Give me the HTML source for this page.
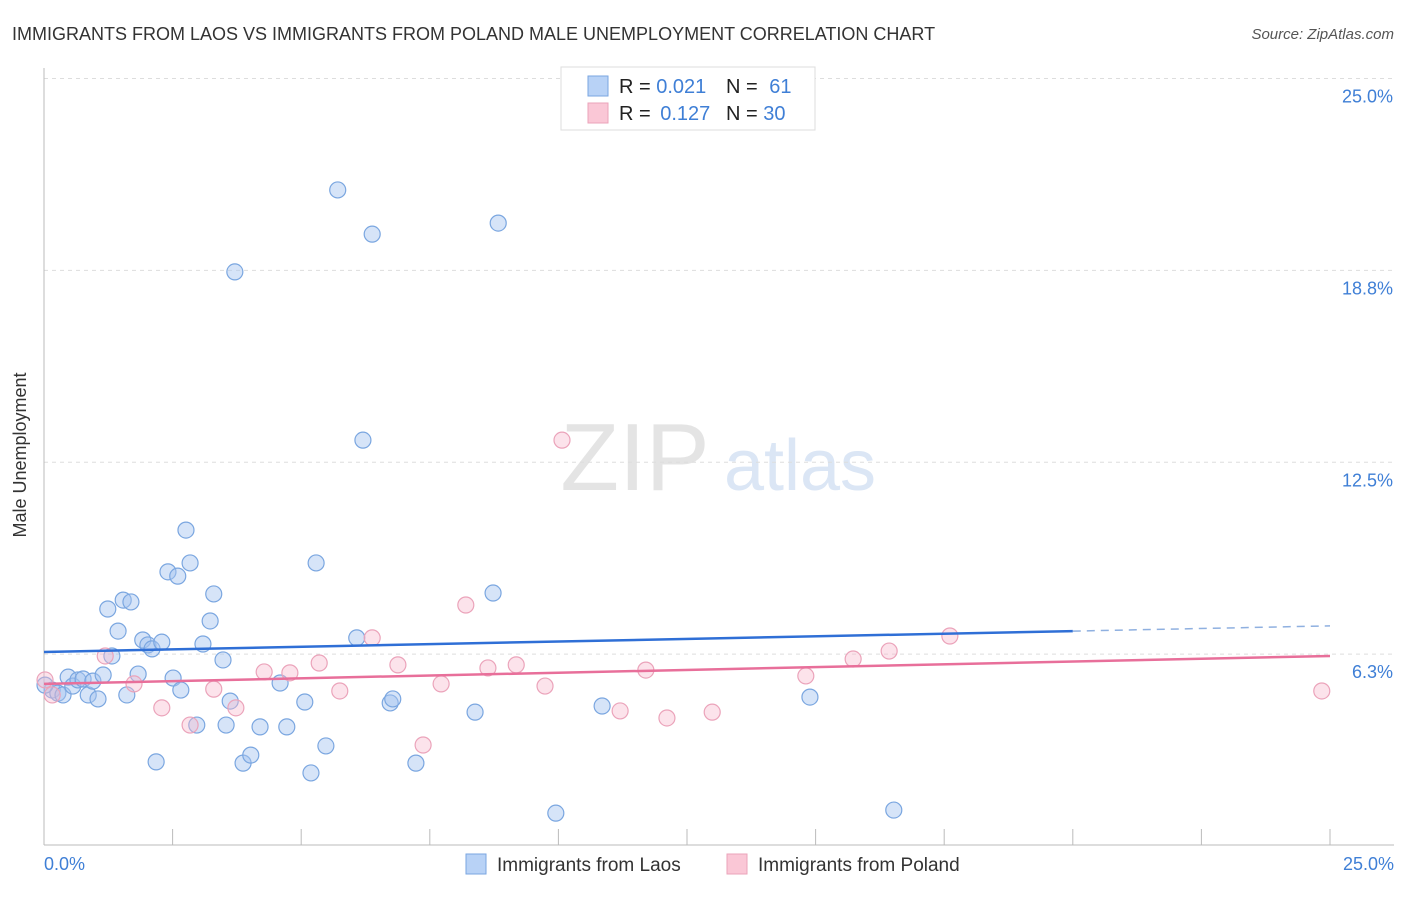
<!DOCTYPE html>
<html><head><meta charset="utf-8"><style>
body{margin:0;background:#fff;font-family:"Liberation Sans",sans-serif;}
svg text{font-family:"Liberation Sans",sans-serif;}
</style></head><body>
<svg id="c" width="1406" height="892">
<text x="12" y="40" font-size="18" fill="#333">IMMIGRANTS FROM LAOS VS IMMIGRANTS FROM POLAND MALE UNEMPLOYMENT CORRELATION CHART</text>
<text x="1394" y="39" font-size="15" fill="#555" font-style="italic" text-anchor="end">Source: ZipAtlas.com</text>
<text x="26" y="455" font-size="18" fill="#333" text-anchor="middle" transform="rotate(-90 26 455)">Male Unemployment</text>
<g><text x="635" y="490" font-size="96" fill="#e4e4e4" font-family="Liberation Serif" text-anchor="middle">ZIP</text><text x="800" y="490" font-size="72" fill="#dbe6f5" text-anchor="middle">atlas</text></g>
<g id="grid"></g><g id="pts"></g><g id="lines"></g>
<g>
<rect x="561" y="67" width="254" height="63" fill="#fff" stroke="#ddd"/>
<rect x="588" y="76" width="20" height="20" fill="#b8d2f6" stroke="#7aa6e0"/>
<rect x="588" y="103" width="20" height="20" fill="#fac7d6" stroke="#eba3ba"/>
<text x="619" y="93" font-size="20" fill="#222">R = <tspan fill="#3f7fd6">0.021</tspan></text>
<text x="726" y="93" font-size="20" fill="#222">N = <tspan fill="#3f7fd6" dx="6">61</tspan></text>
<text x="619" y="120" font-size="20" fill="#222">R = <tspan fill="#3f7fd6" dx="4">0.127</tspan></text>
<text x="726" y="120" font-size="20" fill="#222">N = <tspan fill="#3f7fd6">30</tspan></text>
</g>
<g>
<rect x="466" y="854" width="20" height="20" fill="#b8d2f6" stroke="#7aa6e0"/>
<text x="497" y="871" font-size="19" fill="#333">Immigrants from Laos</text>
<rect x="727" y="854" width="20" height="20" fill="#fac7d6" stroke="#eba3ba"/>
<text x="758" y="871" font-size="19" fill="#333">Immigrants from Poland</text>
</g>
</svg>
<script>
const laosX=[0.16,0.27,0.37,0.47,0.56,0.66,0.76,0.86,0.95,1.05,1.15,1.24,1.32,1.44,1.54,1.61,1.69,1.83,1.92,2.02,2.10,2.18,2.29,2.41,2.51,2.60,2.66,2.76,2.84,2.97,3.09,3.23,3.30,3.48,3.54,3.62,3.71,3.87,4.02,4.20,4.59,4.72,5.07,5.19,5.29,5.48,5.71,6.08,6.20,6.38,6.73,6.78,7.23,8.38,8.73,8.83,9.95,10.85,14.89,16.52,0.02];
const laosY=[5.08,4.98,4.92,5.50,5.21,5.41,5.44,4.92,5.37,4.79,5.57,7.72,6.19,7.00,8.01,4.92,7.95,5.60,6.71,6.55,6.42,2.74,6.64,8.93,5.47,8.79,5.08,10.29,9.22,3.94,6.58,7.33,8.21,6.06,3.94,4.72,18.70,2.70,2.96,3.88,5.31,3.88,4.69,2.38,9.22,3.26,21.37,6.78,13.22,19.93,4.66,4.79,2.70,4.36,8.24,20.29,1.07,4.56,4.85,1.17,5.24];
const polX=[0.02,0.16,1.19,1.75,2.29,2.84,3.30,3.73,4.28,4.78,5.35,5.75,6.38,6.88,7.37,7.72,8.20,8.63,9.18,9.74,10.07,11.20,11.70,12.11,12.99,14.81,15.73,16.43,17.61,24.84];
const polY=[5.41,4.92,6.19,5.28,4.50,3.94,5.11,4.50,5.67,5.64,5.96,5.05,6.78,5.90,3.29,5.28,7.85,5.80,5.90,5.21,13.22,4.40,5.73,4.17,4.36,5.54,6.09,6.35,6.84,5.05];
const yTicks=[6.25,12.5,18.75,25];
const yTickLabels=["6.3%","12.5%","18.8%","25.0%"];
const xTicks=[0,2.5,5,7.5,10,12.5,15,17.5,20,22.5,25];
const laosTrend=[6.32,7.00,7.17];
const polTrend=[5.28,6.19];
const NS='http://www.w3.org/2000/svg';
const sx=v=>44+v*51.44, sy=v=>846-v*30.7;
function mk(t,a,p){const e=document.createElementNS(NS,t);for(const k in a)e.setAttribute(k,a[k]);p.appendChild(e);return e;}
const svg=document.getElementById('c'),g=document.getElementById('grid'),P=document.getElementById('pts'),L=document.getElementById('lines');
yTicks.forEach((t,i)=>{
 const l=mk('line',{x1:44,x2:1394,y1:sy(t),y2:sy(t),stroke:'#ddd','stroke-dasharray':'4,4'},g);
 
 
 const tx=mk('text',{x:1393,y:sy(t)+24,'font-size':18,fill:'#3f7fd6','text-anchor':'end'},g);
 tx.textContent=yTickLabels[i];
 
 
});
const ax=mk('line',{x1:44,x2:1394,y1:845,y2:845,stroke:'#bbb'},g);


const ay=mk('line',{x1:44,x2:44,y1:68,y2:845,stroke:'#bbb'},g);


xTicks.forEach(t=>{const l=mk('line',{x1:sx(t),x2:sx(t),y1:829,y2:845,stroke:'#bbb'},g);
 
 });
const x0=mk('text',{x:44,y:870,'font-size':18,fill:'#3f7fd6'},g);x0.textContent='0.0%';


const x1=mk('text',{x:1394,y:870,'font-size':18,fill:'#3f7fd6','text-anchor':'end'},g);x1.textContent='25.0%';


laosX.forEach((x,i)=>{const c=mk('circle',{cx:sx(x),cy:sy(laosY[i]),r:8,fill:'rgba(164,196,240,0.45)',stroke:'#7aa6e0','stroke-width':1.2},P);
 
 });
polX.forEach((x,i)=>{const c=mk('circle',{cx:sx(x),cy:sy(polY[i]),r:8,fill:'rgba(247,185,204,0.4)',stroke:'#eba3ba','stroke-width':1.2},P);
 
 });
const bl=mk('line',{x1:sx(0),y1:sy(laosTrend[0]),x2:sx(20),y2:sy(laosTrend[1]),stroke:'#2f6fd6','stroke-width':2.5},L);


const bd=mk('line',{x1:sx(20),y1:sy(laosTrend[1]),x2:sx(25),y2:sy(laosTrend[2]),stroke:'#8fb0e0','stroke-width':1.5,'stroke-dasharray':'8,6'},L);


const pl=mk('line',{x1:sx(0),y1:sy(polTrend[0]),x2:sx(25),y2:sy(polTrend[1]),stroke:'#e86f9a','stroke-width':2.5},L);


</script>
</body></html>
